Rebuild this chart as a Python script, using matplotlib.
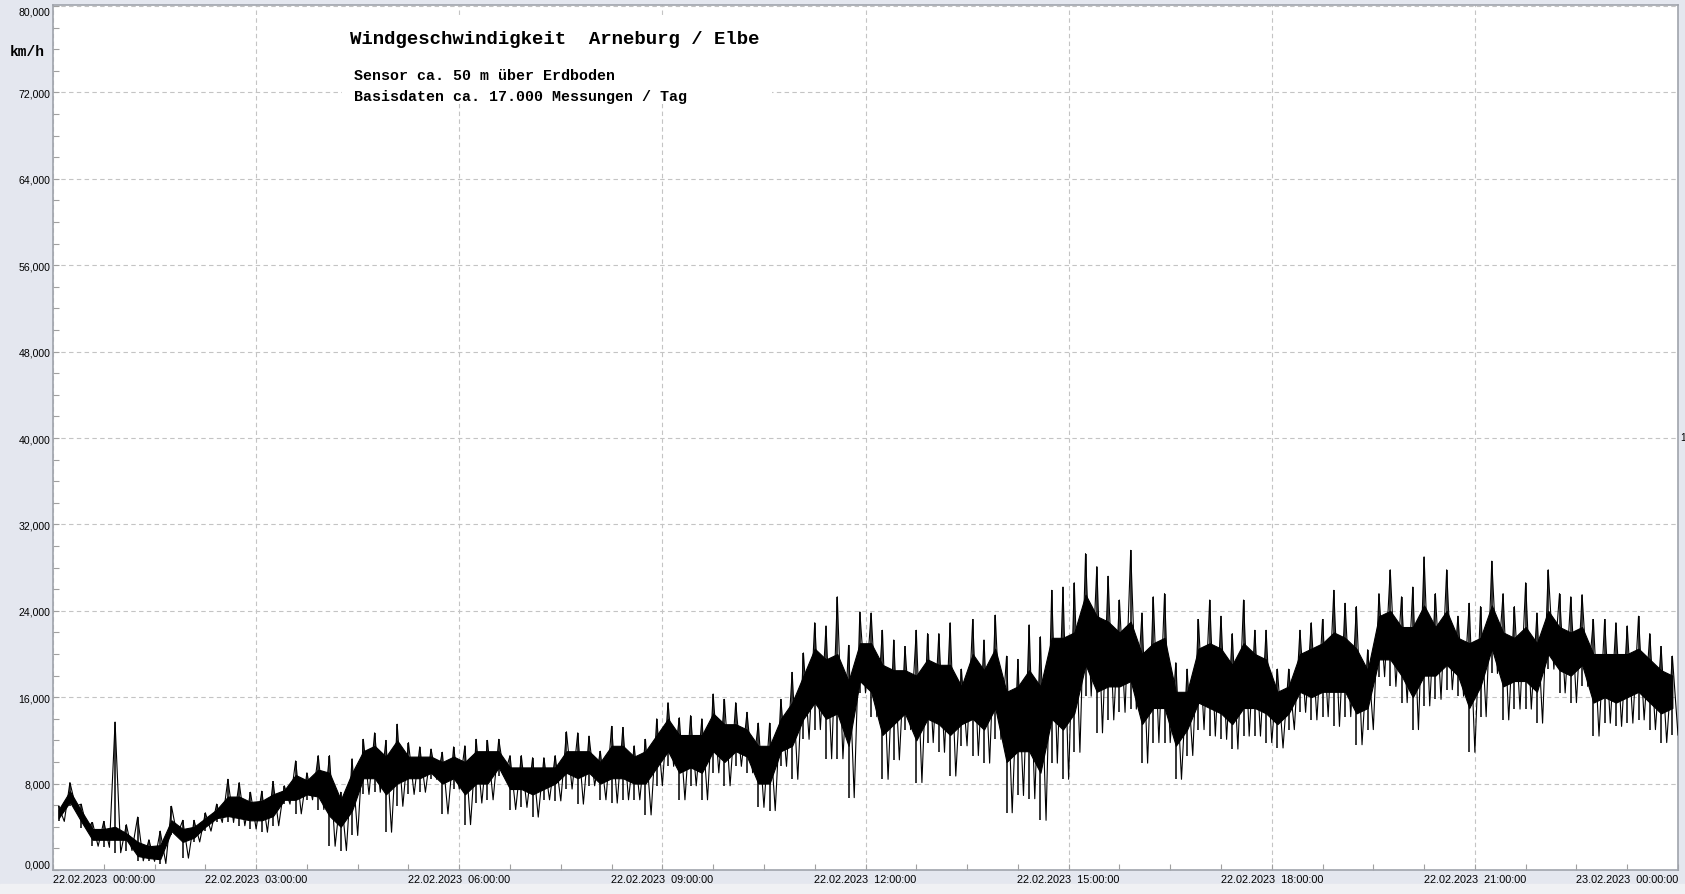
import numpy as np
import matplotlib.pyplot as plt
from matplotlib.patches import Rectangle
from matplotlib.ticker import MultipleLocator, FixedLocator

# wind speed, km/h in thousands (axis labels use the "x,000" style),
# read per 10 minute bin: lowest / highest value (spikes) in the bin
bin_min = 10
wind_lo = [4.5, 5.9, 3.9, 2.2, 2.1, 1.6, 1.8, 0.85, 0.8, 0.6, 3.2, 1.1,
           2.6, 3.6, 4.4, 4.4, 4.1, 3.8, 3.5, 4.1, 6.1, 5.2, 6.5, 5.6,
           2.2, 1.8, 3.2, 7.0, 7.2, 3.5, 5.9, 7.0, 7.2, 8.4, 5.2, 7.5,
           4.2, 6.2, 6.5, 8.7, 5.6, 5.8, 4.9, 6.5, 6.4, 7.5, 6.1, 7.8,
           6.5, 6.2, 6.5, 6.5, 5.1, 7.8, 9.6, 6.5, 7.8, 6.5, 9.0, 7.8,
           9.6, 9.0, 5.8, 5.5, 9.6, 8.4, 12.1, 13.0, 10.3, 10.3, 6.7, 16.4,
           14.2, 8.4, 10.2, 13.0, 8.1, 11.8, 10.9, 8.7, 11.5, 10.6, 9.9, 12.1,
           5.3, 6.9, 6.6, 4.6, 9.9, 8.4, 10.9, 16.1, 12.7, 13.9, 14.6, 14.9,
           9.9, 11.8, 11.8, 8.4, 10.6, 13.0, 12.4, 12.1, 11.2, 12.4, 12.4, 11.8,
           11.3, 13.0, 14.6, 13.9, 14.2, 13.3, 14.2, 11.6, 13.0, 17.9, 17.0, 15.5,
           13.0, 15.2, 15.8, 16.7, 16.1, 10.9, 14.2, 18.2, 13.9, 14.9, 14.9, 13.6,
           18.6, 16.4, 15.5, 17.0, 12.4, 13.6, 13.3, 13.6, 13.9, 13.0, 11.8, 12.5]
wind_hi = [5.9, 8.1, 6.1, 4.4, 4.5, 13.7, 4.2, 4.9, 2.8, 3.6, 5.9, 4.6,
           4.6, 5.3, 6.1, 8.4, 8.1, 7.2, 7.3, 8.2, 7.8, 10.1, 9.0, 10.6,
           10.6, 7.2, 10.3, 12.1, 12.7, 12.0, 13.5, 11.8, 11.4, 11.2, 10.9, 11.4,
           11.5, 12.1, 12.0, 12.1, 10.6, 10.6, 10.4, 10.4, 10.6, 12.8, 12.7, 12.4,
           11.0, 13.3, 13.2, 11.5, 12.1, 14.0, 15.5, 14.1, 14.3, 14.0, 16.3, 15.8,
           15.5, 14.6, 13.6, 13.6, 15.8, 18.3, 20.1, 22.9, 22.6, 25.3, 20.8, 23.9,
           23.8, 22.2, 21.3, 20.7, 22.2, 21.9, 21.9, 22.9, 18.6, 23.2, 21.3, 23.6,
           19.8, 19.5, 22.7, 21.6, 25.9, 26.2, 26.6, 29.3, 28.1, 27.2, 25.0, 29.6,
           23.8, 25.3, 25.6, 19.2, 18.6, 23.2, 25.0, 23.5, 21.9, 25.0, 22.2, 22.2,
           18.6, 18.6, 22.2, 22.9, 23.2, 25.9, 24.7, 24.4, 20.4, 25.6, 27.8, 25.3,
           26.2, 29.0, 25.6, 27.8, 23.5, 24.7, 24.4, 28.6, 25.6, 24.4, 26.6, 23.8,
           27.8, 25.6, 25.3, 25.5, 23.2, 23.2, 22.9, 22.6, 23.5, 21.9, 20.7, 19.8]
# dense part of the trace per bin (where most readings sit)
core_lo = [4.8, 6.3, 4.5, 2.8, 2.8, 2.8, 2.8, 1.3, 1.1, 1.0, 3.6, 2.6,
           3.0, 4.0, 4.8, 5.0, 4.8, 4.6, 4.6, 5.0, 6.5, 6.5, 7.0, 6.8,
           5.0, 4.0, 5.5, 8.5, 8.5, 7.0, 8.0, 8.5, 8.5, 9.0, 8.0, 8.5,
           7.0, 8.0, 8.0, 9.5, 7.5, 7.5, 7.0, 7.5, 8.0, 9.0, 8.5, 9.0,
           8.0, 8.5, 8.5, 8.0, 8.0, 9.5, 11.0, 9.0, 9.5, 9.0, 11.0, 10.0,
           11.0, 10.5, 8.0, 8.0, 11.0, 11.5, 14.0, 15.5, 14.0, 14.5, 11.5, 17.5,
           16.5, 12.5, 13.5, 14.5, 12.0, 14.0, 13.5, 12.5, 13.5, 14.0, 13.0, 15.0,
           10.0, 11.0, 11.0, 9.0, 14.0, 13.0, 14.5, 19.0, 16.5, 17.0, 17.0, 17.5,
           13.5, 15.0, 15.0, 11.5, 13.0, 15.5, 15.0, 14.5, 13.5, 15.0, 15.0, 14.5,
           13.5, 14.5, 16.5, 16.0, 16.5, 16.5, 16.5, 14.5, 15.0, 19.5, 19.5, 18.0,
           16.0, 18.0, 18.0, 19.0, 18.0, 15.0, 17.0, 20.5, 17.0, 17.5, 17.5, 16.5,
           20.0, 18.5, 18.0, 19.0, 15.5, 16.0, 15.5, 16.0, 16.5, 15.5, 14.5, 15.0]
core_hi = [5.6, 7.3, 5.5, 3.8, 3.8, 4.0, 3.4, 2.6, 2.2, 2.3, 4.6, 3.8,
           4.0, 4.8, 5.6, 6.8, 6.8, 6.3, 6.4, 7.0, 7.4, 8.8, 8.3, 9.3,
           9.0, 6.5, 9.0, 11.0, 11.5, 10.5, 12.0, 10.5, 10.5, 10.5, 10.0, 10.5,
           10.0, 11.0, 11.0, 11.0, 9.5, 9.5, 9.5, 9.5, 9.5, 11.0, 11.0, 11.0,
           10.0, 11.5, 11.5, 10.5, 11.0, 12.5, 14.0, 12.5, 12.5, 12.5, 14.5, 13.5,
           13.5, 13.0, 11.5, 11.5, 14.0, 15.5, 18.0, 20.5, 19.5, 20.0, 17.5, 21.0,
           21.0, 19.0, 18.5, 18.5, 18.0, 19.5, 19.0, 19.0, 17.0, 20.0, 18.5, 20.5,
           16.5, 17.0, 18.5, 17.0, 21.5, 21.5, 22.0, 25.5, 23.5, 23.0, 22.0, 23.0,
           20.0, 21.0, 21.5, 16.5, 16.5, 20.5, 21.0, 20.5, 19.0, 21.0, 20.0, 19.5,
           16.5, 17.0, 20.0, 20.5, 21.0, 22.0, 21.5, 20.5, 18.5, 23.5, 24.0, 22.5,
           22.5, 24.5, 22.5, 24.0, 21.5, 21.0, 21.5, 24.5, 22.0, 21.5, 22.5, 21.0,
           24.0, 22.5, 22.0, 22.5, 20.0, 20.0, 20.0, 20.0, 20.5, 19.5, 18.5, 18.0]

y_ticks = [0, 8, 16, 24, 32, 40, 48, 56, 64, 72, 80]
y_labels = ['0,000', '8,000', '16,000', '24,000', '32,000', '40,000',
            '48,000', '56,000', '64,000', '72,000', '80,000']
x_ticks = [0, 3, 6, 9, 12, 15, 18, 21, 24]
x_labels = ['22.02.2023  00:00:00', '22.02.2023  03:00:00', '22.02.2023  06:00:00',
            '22.02.2023  09:00:00', '22.02.2023  12:00:00', '22.02.2023  15:00:00',
            '22.02.2023  18:00:00', '22.02.2023  21:00:00', '23.02.2023  00:00:00']

W, H = 1685, 895
fig = plt.figure(figsize=(W/100, H/100), dpi=100, facecolor='#e4e7ef')
fig.patches.append(Rectangle((0, 0), 1, 10/H, transform=fig.transFigure,
                             color='#f0f1f4', zorder=0))

ax = fig.add_axes([53/W, (H-871)/H, (1678-53)/W, (871-6)/H])
ax.set_facecolor('white')

t_mid = (np.arange(len(wind_lo)) + 0.5) * bin_min / 60
ax.fill_between(t_mid, core_lo, core_hi, color='black', lw=0.8, zorder=3)
ax.vlines(t_mid, wind_lo, wind_hi, color='black', lw=1.1, zorder=3)
# trace scribbles from one spike to the next
t_half = t_mid + bin_min / 120
ax.plot(np.ravel(np.column_stack([t_mid, t_half])),
        np.ravel(np.column_stack([wind_hi, wind_lo])),
        color='black', lw=0.8, zorder=3)

ax.set_xlim(0, 24)
ax.set_ylim(0, 80.1)

ax.set_axisbelow(True)
ax.xaxis.set_major_locator(FixedLocator(x_ticks))
ax.xaxis.set_minor_locator(MultipleLocator(0.75))
ax.yaxis.set_major_locator(FixedLocator(y_ticks))
ax.yaxis.set_minor_locator(MultipleLocator(2))
ax.grid(True, which='major', color='#c4c4c4', lw=0.8, ls=(0, (4, 3)))

ax.set_xticklabels(x_labels, fontsize=7.8, family='Liberation Sans')
ax.set_yticklabels(y_labels, fontsize=7.6, family='Liberation Sans')
xl = ax.get_xticklabels()
xl[0].set_ha('left')
xl[-1].set_ha('right')
yl = ax.get_yticklabels()
yl[0].set_va('bottom')
yl[-1].set_va('top')

ax.tick_params(which='both', direction='in', color='#a0a0a0', width=0.8)
ax.tick_params(which='major', length=4)
ax.tick_params(which='minor', length=4)
ax.tick_params(axis='y', pad=2)
ax.tick_params(axis='x', pad=3)
for s in ax.spines.values():
    s.set_color('#a0a4ac')
    s.set_linewidth(1.2)

# white box behind the heading
ax.add_patch(Rectangle((342/W, 1 - 105/H), (772-342)/W, (105-18)/H,
                       transform=fig.transFigure, facecolor='white',
                       edgecolor='none', zorder=1))

mono = 'Liberation Mono'
fig.text(350/W, 1 - 40/H, 'Windgeschwindigkeit  Arneburg / Elbe',
         family=mono, weight='bold', fontsize=13.7, va='center')
fig.text(354/W, 1 - 76/H, 'Sensor ca. 50 m über Erdboden',
         family=mono, weight='bold', fontsize=10.8, va='center')
fig.text(354/W, 1 - 97/H, 'Basisdaten ca. 17.000 Messungen / Tag',
         family=mono, weight='bold', fontsize=10.8, va='center')
fig.text(10/W, 1 - 52/H, 'km/h', family=mono, weight='bold',
         fontsize=10.5, va='center')
fig.text(1680/W, 1 - 438/H, '1', family='Liberation Sans', fontsize=7.3,
         va='center')

fig.savefig('out.png', dpi=100, facecolor=fig.get_facecolor())
